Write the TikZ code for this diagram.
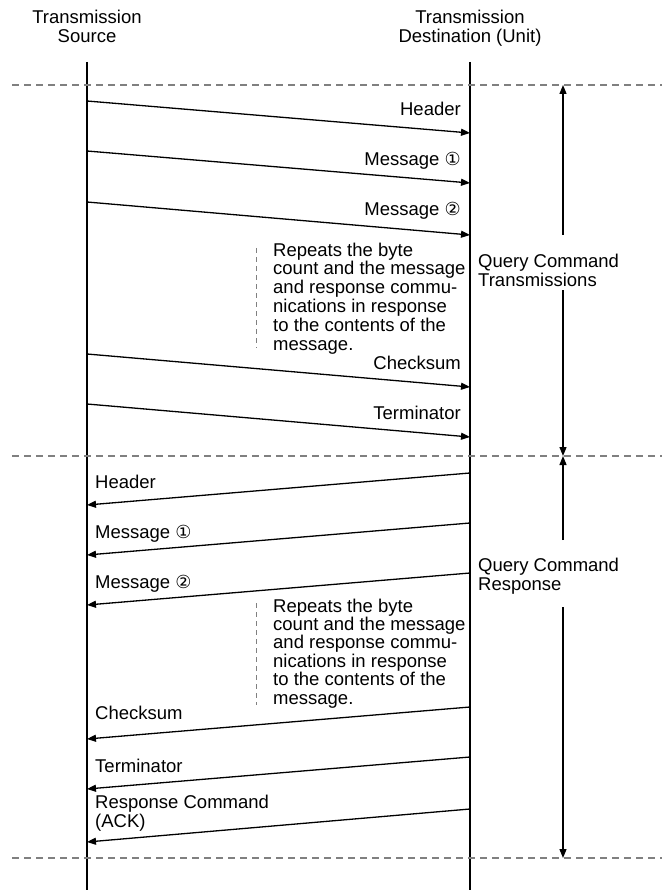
\documentclass[tikz,border=0pt]{standalone}
\usepackage{fontspec}
\setmainfont{Liberation Sans}
\newfontfamily\circfont{DejaVu Sans}
\usetikzlibrary{arrows.meta}

\newcommand{\one}{{\circfont\fontsize{18}{18}\selectfont ①}}
\newcommand{\two}{{\circfont\fontsize{18}{18}\selectfont ②}}

\begin{document}
\begin{tikzpicture}[x=1pt, y=-1pt, inner sep=0pt,
    >={Triangle[length=9pt,width=7pt]},
    lbl/.style={font=\fontsize{18.5}{19}\selectfont, align=left},
    life/.style={line width=1.4pt},
    msg/.style={line width=1.3pt, ->},
    sep/.style={line width=1.1pt, gray, dash pattern=on 7pt off 5pt},
    note/.style={line width=0.8pt, gray, dash pattern=on 5pt off 4pt},
    span/.style={line width=1.3pt, ->}]
      \useasboundingbox (0,0) rectangle (662,890);

      % lifelines (base = last line of a node)
      \node[lbl, align=center, anchor=base] (src) at (87,43) {Transmission\\Source};
      \node[lbl, align=center, anchor=base] (dst) at (470,43) {Transmission\\Destination (Unit)};
      \coordinate (srctop) at (87,62);
      \coordinate (srcbot) at (87,890);
      \coordinate (dsttop) at (470,62);
      \coordinate (dstbot) at (470,890);
      \draw[life] (srctop) -- (srcbot);
      \draw[life] (dsttop) -- (dstbot);

      % phase separators
      \coordinate (sepl1) at (12,85);   \coordinate (sepr1) at (662,85);
      \coordinate (sepl2) at (12,456);  \coordinate (sepr2) at (662,456);
      \coordinate (sepl3) at (12,858);  \coordinate (sepr3) at (662,858);
      \draw[sep] (sepl1) -- (sepr1);
      \draw[sep] (sepl2) -- (sepr2);
      \draw[sep] (sepl3) -- (sepr3);

      % query command transmissions
      \coordinate (ts1) at (87,101);  \coordinate (td1) at (470,133);
      \coordinate (ts2) at (87,151);  \coordinate (td2) at (470,183);
      \coordinate (ts3) at (87,202);  \coordinate (td3) at (470,235);
      \coordinate (ts4) at (87,354);  \coordinate (td4) at (470,387);
      \coordinate (ts5) at (87,404);  \coordinate (td5) at (470,437);
      \draw[msg] (ts1) -- (td1);
      \draw[msg] (ts2) -- (td2);
      \draw[msg] (ts3) -- (td3);
      \draw[msg] (ts4) -- (td4);
      \draw[msg] (ts5) -- (td5);

      \node[lbl, anchor=base east] (theader) at (461,116) {Header};
      \node[lbl, anchor=base east] (tmsg1) at (461,166) {Message \one};
      \node[lbl, anchor=base east] (tmsg2) at (461,216) {Message \two};
      \node[lbl, anchor=base east] (tsum) at (461,369) {Checksum};
      \node[lbl, anchor=base east] (tterm) at (461,419) {Terminator};

      \node[lbl, anchor=base west, font=\fontsize{18.5}{18.8}\selectfont] (tnote) at (273,350)
        {Repeats the byte\\count and the message\\and response commu-\\nications in response\\to the contents of the\\message.};
      \coordinate (tnotea) at (256,248);
      \coordinate (tnoteb) at (256,348);
      \draw[note] (tnotea) -- (tnoteb);

      % query command response
      \coordinate (rd1) at (470,473);  \coordinate (rs1) at (87,505);
      \coordinate (rd2) at (470,523);  \coordinate (rs2) at (87,555);
      \coordinate (rd3) at (470,573);  \coordinate (rs3) at (87,605);
      \coordinate (rd4) at (470,707);  \coordinate (rs4) at (87,739);
      \coordinate (rd5) at (470,757);  \coordinate (rs5) at (87,789);
      \coordinate (rd6) at (470,809);  \coordinate (rs6) at (87,842);
      \draw[msg] (rd1) -- (rs1);
      \draw[msg] (rd2) -- (rs2);
      \draw[msg] (rd3) -- (rs3);
      \draw[msg] (rd4) -- (rs4);
      \draw[msg] (rd5) -- (rs5);
      \draw[msg] (rd6) -- (rs6);

      \node[lbl, anchor=base west] (rheader) at (95,488) {Header};
      \node[lbl, anchor=base west] (rmsg1) at (95,538) {Message \one};
      \node[lbl, anchor=base west] (rmsg2) at (95,588) {Message \two};
      \node[lbl, anchor=base west] (rsum) at (95,719) {Checksum};
      \node[lbl, anchor=base west] (rterm) at (95,772) {Terminator};
      \node[lbl, anchor=base west, font=\fontsize{18.5}{17}\selectfont] (rack) at (95,827) {Response Command\\(ACK)};

      \node[lbl, anchor=base west, font=\fontsize{18.5}{18.4}\selectfont] (rnote) at (273,704)
        {Repeats the byte\\count and the message\\and response commu-\\nications in response\\to the contents of the\\message.};
      \coordinate (rnotea) at (256,603);
      \coordinate (rnoteb) at (256,705);
      \draw[note] (rnotea) -- (rnoteb);

      % phase spans
      \node[lbl, anchor=base west] (qtrans) at (478,287) {Query Command\\Transmissions};
      \node[lbl, anchor=base west] (qresp) at (478,590) {Query Command\\Response};
      \coordinate (qta) at (563,235);
      \coordinate (qtb) at (563,290);
      \coordinate (qra) at (563,540);
      \coordinate (qrb) at (563,607);
      \coordinate (qtop) at (563,85);
      \coordinate (qmid) at (563,456);
      \coordinate (qend) at (563,858);
      \draw[span] (qta) -- (qtop);
      \draw[span] (qtb) -- (qmid);
      \draw[span] (qra) -- (qmid);
      \draw[span] (qrb) -- (qend);
    \end{tikzpicture}
\end{document}
